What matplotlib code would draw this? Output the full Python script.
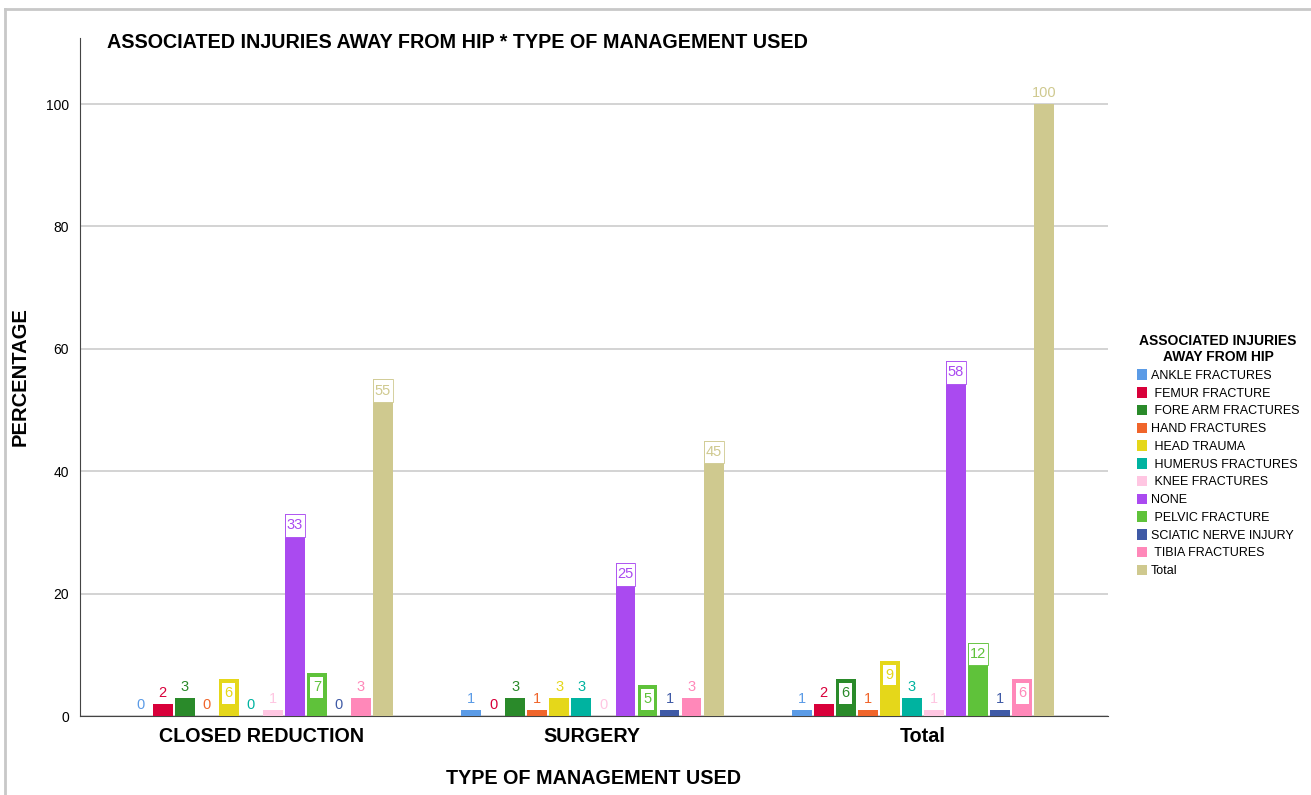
import matplotlib.pyplot as plt
from matplotlib.patches import Patch, Rectangle
from matplotlib.lines import Line2D
import numpy as np

plt.rcParams['font.family'] = ['Liberation Sans', 'DejaVu Sans']

# categories on the x axis
groups = ["CLOSED REDUCTION", "SURGERY", "Total"]

# legend entries (leading spaces as in the SPSS output)
injuries = ["ANKLE FRACTURES", " FEMUR FRACTURE", " FORE ARM FRACTURES", "HAND FRACTURES",
            " HEAD TRAUMA", " HUMERUS FRACTURES", " KNEE FRACTURES", "NONE",
            " PELVIC FRACTURE", "SCIATIC NERVE INJURY", " TIBIA FRACTURES", "Total"]

colors = ["#5b9be6", "#d8003a", "#2a8a2a", "#f0652b", "#e5d71a", "#00b3a0",
          "#ffc6e2", "#aa4af0", "#5fc23a", "#3f5aa6", "#ff88b9", "#cfc98f"]

# percentages per group, one value per injury
closed_reduction = [0, 2, 3, 0, 6, 0, 1, 33, 7, 0, 3, 55]
surgery = [1, 0, 3, 1, 3, 3, 0, 25, 5, 1, 3, 45]
total = [1, 2, 6, 1, 9, 3, 1, 58, 12, 1, 6, 100]

values = [closed_reduction, surgery, total]

fig = plt.figure(figsize=(13.11, 7.95), dpi=100)
ax = fig.add_axes([80/1311, 79/795, 1028/1311, 678/795])

n = len(injuries)
step = 0.0667
width = 0.06
offsets = (np.arange(n) - (n - 1) / 2) * step
vmax = max(max(v) for v in values)

for g, vals in enumerate(values):
    for i, v in enumerate(vals):
        x = g + offsets[i]
        ax.bar(x, v, width=width, color=colors[i], zorder=3)
        if v >= 12 and v < vmax:
            # white label box covering the top of the bar
            ax.add_patch(Rectangle((x - width/2, v - 3.7), width, 3.7, facecolor="white",
                                   edgecolor=colors[i], linewidth=0.6, zorder=4))
            ax.text(x, v - 1.85, str(v), ha="center", va="center", fontsize=10.5,
                    color=colors[i], zorder=5)
        elif v >= 5 and v < vmax:
            ax.add_patch(Rectangle((x - width*0.33, v - 4.0), width*0.66, 3.4, facecolor="white",
                                   edgecolor="none", zorder=4))
            ax.text(x, v - 2.3, str(v), ha="center", va="center", fontsize=10.5,
                    color=colors[i], zorder=5)
        else:
            ax.text(x, v + 0.6, str(v), ha="center", va="bottom", fontsize=10.5,
                    color=colors[i], zorder=5,
                    bbox=dict(boxstyle="square,pad=0.15", facecolor="white", edgecolor="none"))

ax.set_xlim(-0.55, 2.56)
ax.set_ylim(0, 110.8)
ax.set_yticks([0, 20, 40, 60, 80, 100])
ax.set_xticks(range(len(groups)))
ax.set_xticklabels(groups, fontsize=14.2, fontweight="bold")
ax.tick_params(axis="y", labelsize=10, length=0, pad=8)
ax.tick_params(axis="x", length=0, pad=8)
ax.grid(axis="y", color="#cccccc", linewidth=1.2, zorder=0)
ax.set_axisbelow(True)
for s in ["top", "right"]:
    ax.spines[s].set_visible(False)
ax.spines["left"].set_color("#444444")
ax.spines["bottom"].set_color("#444444")
ax.spines["bottom"].set_zorder(2)

ax.set_ylabel("PERCENTAGE", fontsize=14.5, fontweight="bold")
ax.yaxis.set_label_coords(-50/1028, 0.5)
ax.set_xlabel("TYPE OF MANAGEMENT USED", fontsize=14.2, fontweight="bold")
ax.xaxis.set_label_coords(0.5, -53/678)

fig.text(107/1311, 1 - 43/795, "ASSOCIATED INJURIES AWAY FROM HIP * TYPE OF MANAGEMENT USED",
         ha="left", va="center", fontsize=14.2, fontweight="bold")

handles = [Patch(facecolor=c, edgecolor="none") for c in colors]
leg = fig.legend(handles, injuries, loc="upper left", bbox_to_anchor=(1132/1311, 1 - 329/795),
                 frameon=False, fontsize=9, handlelength=0.8, handleheight=0.9,
                 handletextpad=0.3, labelspacing=0.42, borderaxespad=0, alignment="center",
                 title="ASSOCIATED INJURIES\nAWAY FROM HIP",
                 title_fontproperties={"weight": "bold", "size": 10})
leg.get_title().set_multialignment("center")

# light frame around the picture
fig.add_artist(Line2D([5/1311, 5/1311], [0, 1 - 9/795], color="#c8c8c8", linewidth=2))
fig.add_artist(Line2D([5/1311, 1], [1 - 9/795, 1 - 9/795], color="#c8c8c8", linewidth=2))

fig.savefig("out.png", dpi=100)
